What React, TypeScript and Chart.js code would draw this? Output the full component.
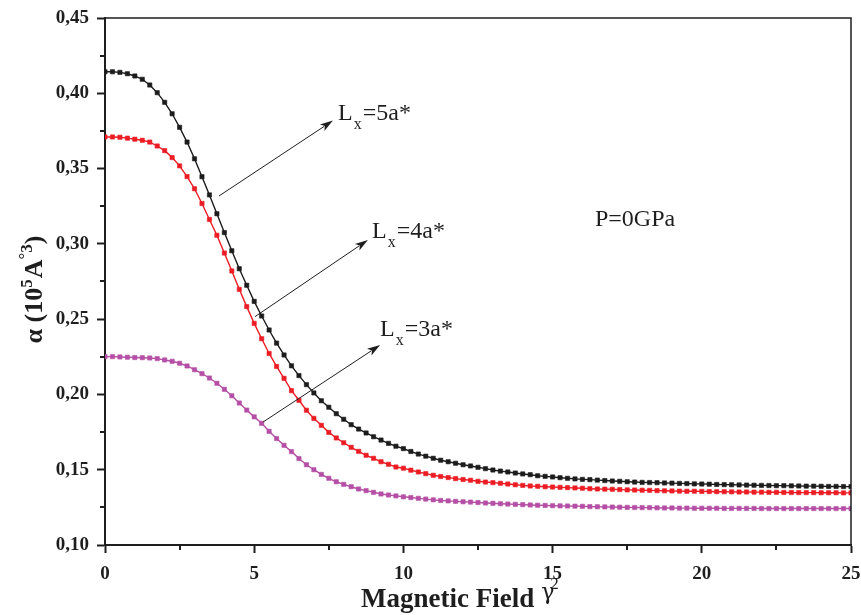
import React, { useEffect, useRef } from 'react';
import { Chart, registerables } from 'chart.js';
Chart.register(...registerables);

// magnetic field gamma^2 sampling grid
const X_VALUES = [
  0, 0.25, 0.5, 0.75, 1, 1.25, 1.5, 1.75, 2, 2.25,
  2.5, 2.75, 3, 3.25, 3.5, 3.75, 4, 4.25, 4.5, 4.75,
  5, 5.25, 5.5, 5.75, 6, 6.25, 6.5, 6.75, 7, 7.25,
  7.5, 7.75, 8, 8.25, 8.5, 8.75, 9, 9.25, 9.5, 9.75,
  10, 10.25, 10.5, 10.75, 11, 11.25, 11.5, 11.75, 12, 12.25,
  12.5, 12.75, 13, 13.25, 13.5, 13.75, 14, 14.25, 14.5, 14.75,
  15, 15.25, 15.5, 15.75, 16, 16.25, 16.5, 16.75, 17, 17.25,
  17.5, 17.75, 18, 18.25, 18.5, 18.75, 19, 19.25, 19.5, 19.75,
  20, 20.25, 20.5, 20.75, 21, 21.25, 21.5, 21.75, 22, 22.25,
  22.5, 22.75, 23, 23.25, 23.5, 23.75, 24, 24.25, 24.5, 24.75,
  25,
];

// Lx = 5a*
const ALPHA_L5 = [
  0.4143, 0.4143, 0.4139, 0.4130, 0.4115, 0.4093, 0.4055, 0.4004, 0.3940, 0.3864,
  0.3774, 0.3676, 0.3565, 0.3446, 0.3325, 0.3200, 0.3075, 0.2954, 0.2835, 0.2725,
  0.2618, 0.2521, 0.2428, 0.2341, 0.2262, 0.2190, 0.2125, 0.2065, 0.2010, 0.1958,
  0.1915, 0.1872, 0.1835, 0.1799, 0.1770, 0.1744, 0.1719, 0.1697, 0.1675, 0.1656,
  0.1640, 0.1621, 0.1604, 0.1590, 0.1576, 0.1563, 0.1553, 0.1543, 0.1533, 0.1525,
  0.1516, 0.1507, 0.1498, 0.1491, 0.1485, 0.1478, 0.1472, 0.1467, 0.1460, 0.1456,
  0.1452, 0.1447, 0.1443, 0.1439, 0.1436, 0.1434, 0.1431, 0.1428, 0.1425, 0.1423,
  0.1420, 0.1418, 0.1416, 0.1415, 0.1414, 0.1412, 0.1411, 0.1409, 0.1408, 0.1406,
  0.1405, 0.1404, 0.1402, 0.1401, 0.1400, 0.1399, 0.1398, 0.1397, 0.1396, 0.1395,
  0.1394, 0.1394, 0.1393, 0.1392, 0.1391, 0.1391, 0.1390, 0.1389, 0.1389, 0.1388,
  0.1388,
];

// Lx = 4a*
const ALPHA_L4 = [
  0.3710, 0.3710, 0.3708, 0.3702, 0.3695, 0.3688, 0.3676, 0.3650, 0.3619, 0.3573,
  0.3518, 0.3447, 0.3366, 0.3268, 0.3162, 0.3057, 0.2939, 0.2820, 0.2698, 0.2583,
  0.2472, 0.2370, 0.2272, 0.2186, 0.2107, 0.2025, 0.1961, 0.1895, 0.1841, 0.1795,
  0.1748, 0.1711, 0.1679, 0.1649, 0.1622, 0.1596, 0.1576, 0.1553, 0.1536, 0.1518,
  0.1510, 0.1497, 0.1485, 0.1474, 0.1463, 0.1455, 0.1448, 0.1441, 0.1435, 0.1430,
  0.1423, 0.1418, 0.1414, 0.1410, 0.1405, 0.1400, 0.1396, 0.1392, 0.1390, 0.1387,
  0.1385, 0.1383, 0.1381, 0.1379, 0.1377, 0.1374, 0.1372, 0.1371, 0.1370, 0.1368,
  0.1366, 0.1365, 0.1364, 0.1363, 0.1361, 0.1360, 0.1359, 0.1358, 0.1357, 0.1357,
  0.1356, 0.1355, 0.1354, 0.1354, 0.1353, 0.1352, 0.1352, 0.1351, 0.1351, 0.1350,
  0.1350, 0.1349, 0.1349, 0.1348, 0.1348, 0.1348, 0.1347, 0.1347, 0.1347, 0.1346,
  0.1346,
];

// Lx = 3a*
const ALPHA_L3 = [
  0.2251, 0.2251, 0.2249, 0.2247, 0.2245, 0.2244, 0.2242, 0.2238, 0.2229, 0.2220,
  0.2207, 0.2189, 0.2164, 0.2138, 0.2109, 0.2074, 0.2034, 0.1991, 0.1943, 0.1896,
  0.1851, 0.1808, 0.1755, 0.1707, 0.1662, 0.1620, 0.1574, 0.1533, 0.1500, 0.1469,
  0.1443, 0.1420, 0.1403, 0.1387, 0.1372, 0.1361, 0.1350, 0.1339, 0.1332, 0.1326,
  0.1320, 0.1315, 0.1310, 0.1305, 0.1300, 0.1296, 0.1293, 0.1290, 0.1287, 0.1285,
  0.1282, 0.1279, 0.1277, 0.1274, 0.1272, 0.1270, 0.1268, 0.1266, 0.1264, 0.1263,
  0.1261, 0.1260, 0.1259, 0.1258, 0.1257, 0.1255, 0.1254, 0.1253, 0.1252, 0.1251,
  0.1250, 0.1249, 0.1248, 0.1248, 0.1247, 0.1246, 0.1246, 0.1245, 0.1245, 0.1244,
  0.1244, 0.1244, 0.1244, 0.1243, 0.1243, 0.1243, 0.1243, 0.1243, 0.1242, 0.1242,
  0.1242, 0.1242, 0.1242, 0.1242, 0.1242, 0.1242, 0.1242, 0.1242, 0.1242, 0.1242,
  0.1242,
];

const SERIES_NAMES = ['Lx=3a*', 'Lx=4a*', 'Lx=5a*'];
const SERIES_SUFFIX = ['=3a*', '=4a*', '=5a*'];
const X_MINOR_TICKS = [2.5, 7.5, 12.5, 17.5, 22.5];
const Y_MINOR_TICKS = [0.125, 0.175, 0.225, 0.275, 0.325, 0.375, 0.425];
const PRESSURE_LABEL = 'P=0GPa';

// annotation anchors (data units): arrow start, arrow tip, label position
const ARROWS = [
  { from: [5.3, 0.1817], to: [9.22, 0.2328], text: [9.22, 0.2388] },
  { from: [5.03, 0.2517], to: [8.81, 0.3026], text: [8.95, 0.3039] },
  { from: [3.82, 0.3318], to: [7.64, 0.3819], text: [7.81, 0.3821] },
];
const PRESSURE_POS = [16.42, 0.3119];

const COLORS = ['#b54fa6', '#ec1c24', '#1c1c1c'];
const SERIF = "'Liberation Serif', 'Times New Roman', serif";
const INK = '#1e1e1e';

const decorPlugin = {
  id: 'decor',
  afterDraw(chart: any) {
    const { ctx, chartArea: a, scales } = chart;
    const xs = scales.x;
    const ys = scales.y;
    ctx.save();
    // top/right frame
    ctx.strokeStyle = INK;
    ctx.lineWidth = 1.5;
    ctx.beginPath();
    ctx.moveTo(a.left, a.top);
    ctx.lineTo(a.right, a.top);
    ctx.lineTo(a.right, a.bottom);
    ctx.stroke();
    // minor ticks
    ctx.lineWidth = 2;
    ctx.beginPath();
    X_MINOR_TICKS.forEach((v) => {
      const px = Math.round(xs.getPixelForValue(v));
      ctx.moveTo(px, a.bottom);
      ctx.lineTo(px, a.bottom + 5);
    });
    Y_MINOR_TICKS.forEach((v) => {
      const py = Math.round(ys.getPixelForValue(v));
      ctx.moveTo(a.left, py);
      ctx.lineTo(a.left - 5, py);
    });
    ctx.stroke();

    // arrows and labels
    ctx.strokeStyle = INK;
    ctx.fillStyle = INK;
    ARROWS.forEach((ar, i) => {
      const x0 = xs.getPixelForValue(ar.from[0]);
      const y0 = ys.getPixelForValue(ar.from[1]);
      const x1 = xs.getPixelForValue(ar.to[0]);
      const y1 = ys.getPixelForValue(ar.to[1]);
      const ang = Math.atan2(y1 - y0, x1 - x0);
      const hl = 13, hw = 4;
      ctx.lineWidth = 1;
      ctx.beginPath();
      ctx.moveTo(x0, y0);
      ctx.lineTo(x1 - Math.cos(ang) * hl * 0.8, y1 - Math.sin(ang) * hl * 0.8);
      ctx.stroke();
      ctx.beginPath();
      ctx.moveTo(x1, y1);
      ctx.lineTo(x1 - Math.cos(ang) * hl - Math.sin(ang) * hw, y1 - Math.sin(ang) * hl + Math.cos(ang) * hw);
      ctx.lineTo(x1 - Math.cos(ang) * hl * 0.75, y1 - Math.sin(ang) * hl * 0.75);
      ctx.lineTo(x1 - Math.cos(ang) * hl + Math.sin(ang) * hw, y1 - Math.sin(ang) * hl - Math.cos(ang) * hw);
      ctx.closePath();
      ctx.fill();

      const tx = xs.getPixelForValue(ar.text[0]);
      const ty = ys.getPixelForValue(ar.text[1]);
      ctx.textBaseline = 'alphabetic';
      ctx.textAlign = 'left';
      ctx.font = `24px ${SERIF}`;
      ctx.fillText('L', tx, ty);
      const wL = ctx.measureText('L').width;
      ctx.font = `16px ${SERIF}`;
      ctx.fillText('x', tx + wL + 1, ty + 9);
      const wx = ctx.measureText('x').width;
      ctx.font = `24px ${SERIF}`;
      ctx.fillText(SERIES_SUFFIX[i], tx + wL + wx + 2, ty);
    });

    // pressure label
    ctx.font = `24px ${SERIF}`;
    ctx.fillText(PRESSURE_LABEL, xs.getPixelForValue(PRESSURE_POS[0]), ys.getPixelForValue(PRESSURE_POS[1]));

    // x axis title
    ctx.font = `bold 27px ${SERIF}`;
    ctx.textAlign = 'left';
    const xt = 'Magnetic Field';
    const xw = ctx.measureText(xt).width;
    const xStart = 361;
    ctx.fillText(xt, xStart, 607);
    ctx.font = `22px 'DejaVu Serif', serif`;
    ctx.fillText('γ', xStart + xw + 7, 599);
    const gw = ctx.measureText('γ').width;
    ctx.font = `17px ${SERIF}`;
    ctx.fillText('2', xStart + xw + 7 + gw - 4, 589);

    // y axis title (rotated)
    ctx.translate(42, (a.top + a.bottom) / 2 + 8);
    ctx.rotate(-Math.PI / 2);
    const parts: [string, number, number, number][] = [
      ['α (10', 26, 0, 0],
      ['5', 17, -10, 1],
      ['A', 26, 0, 0],
      ['°', 17, -12, 0],
      ['3', 17, -10, 0],
      [')', 26, 0, 0],
    ];
    let total = 0;
    parts.forEach(([t, s, , g]) => {
      ctx.font = `bold ${s}px ${SERIF}`;
      total += ctx.measureText(t).width + g;
    });
    let cx = -total / 2;
    parts.forEach(([t, s, dy, g]) => {
      ctx.font = `bold ${s}px ${SERIF}`;
      ctx.fillText(t, cx, dy);
      cx += ctx.measureText(t).width + g;
    });
    ctx.restore();
  },
};

export default function App() {
  const ref = useRef<HTMLCanvasElement | null>(null);
  useEffect(() => {
    if (!ref.current) return;
    const series = [ALPHA_L3, ALPHA_L4, ALPHA_L5];
    const chart = new Chart(ref.current, {
      type: 'line',
      data: {
        datasets: series.map((vals, i) => ({
          label: SERIES_NAMES[i],
          data: X_VALUES.map((x, j) => ({ x, y: vals[j] })),
          borderColor: COLORS[i],
          backgroundColor: COLORS[i],
          pointBackgroundColor: COLORS[i],
          pointBorderColor: COLORS[i],
          pointStyle: 'rect',
          pointRadius: 3,
          pointBorderWidth: 0.6,
          borderWidth: 1.4,
          tension: 0,
          fill: false,
        })),
      },
      options: {
        animation: false,
        responsive: false,
        devicePixelRatio: 1,
        layout: { padding: { top: 18, right: 10, left: 0, bottom: 0 } },
        plugins: { legend: { display: false }, tooltip: { enabled: false } },
        scales: {
          x: {
            type: 'linear',
            min: 0,
            max: 25,
            ticks: {
              stepSize: 5,
              color: INK,
              font: { family: SERIF, size: 19, weight: 'bold' },
              padding: 10,
              maxRotation: 0,
              callback: (v: any) => String(v),
            },
            grid: { drawOnChartArea: false, drawTicks: true, tickLength: 8, tickWidth: 2, tickColor: INK },
            border: { display: true, color: INK, width: 2 },
            afterFit: (s: any) => { s.height = 70; s.paddingLeft = 0; s.paddingRight = 0; },
          },
          y: {
            type: 'linear',
            min: 0.1,
            max: 0.45,
            ticks: {
              stepSize: 0.05,
              color: INK,
              font: { family: SERIF, size: 19, weight: 'bold' },
              padding: 8,
              callback: (v: any) => Number(v).toFixed(2).replace('.', ','),
            },
            grid: { drawOnChartArea: false, drawTicks: true, tickLength: 8, tickWidth: 2, tickColor: INK },
            border: { display: true, color: INK, width: 2 },
            afterFit: (s: any) => { s.width = 105; s.paddingTop = 0; s.paddingBottom = 0; },
          },
        },
      },
      plugins: [decorPlugin],
    } as any);
    return () => chart.destroy();
  }, []);
  return (
    <div style={{ position: 'fixed', left: 0, top: 0, width: 861, height: 615, background: '#fff' }}>
      <canvas ref={ref} width={861} height={615} />
    </div>
  );
}
